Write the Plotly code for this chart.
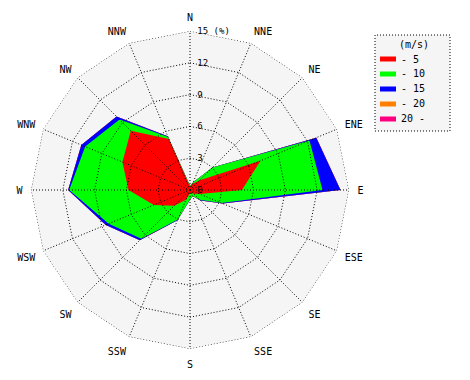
import numpy as np
import plotly.graph_objects as go

directions = ["N", "NNE", "NE", "ENE", "E", "ESE", "SE", "SSE",
              "S", "SSW", "SW", "WSW", "W", "WNW", "NW", "NNW"]

# frequency (%) per speed class and direction
speed_0_5 = [0.3, 0.6, 1.3, 7.2, 4.9, 1.0, 0.5, 0.3, 0.3, 1.0, 2.1, 3.7, 5.8, 6.9, 7.9, 5.2]
speed_5_10 = [0.1, 0.2, 1.7, 5.0, 7.6, 2.2, 0.8, 0.3, 0.6, 2.0, 4.4, 4.6, 5.6, 3.8, 1.5, 0.2]
speed_10_15 = [0.0, 0.0, 0.0, 0.7, 1.7, 0.15, 0.1, 0.0, 0.0, 0.1, 0.2, 0.3, 0.1, 0.4, 0.4, 0.1]
speed_15_20 = [0.0] * 16
speed_20_up = [0.0] * 16

class_names = ["- 5", "- 10", "- 15", "- 20", "20 -"]
class_colors = ["#ff0000", "#00ff00", "#0000ff", "#ff8000", "#ff0080"]
legend_title = "(m/s)"

radial_max = 15
radial_ticks = [0, 3, 6, 9, 12, 15]
radial_ticktext = ["0", "3", "6", "9", "12", "15 (%)"]

W, H = 470, 380
bins = np.array([speed_0_5, speed_5_10, speed_10_15, speed_15_20, speed_20_up])
cum = np.cumsum(bins, axis=0)

fig = go.Figure()
# plot-area background polygon
fig.add_trace(go.Scatterpolar(
    r=[radial_max] * len(directions), theta=directions,
    mode="none", fill="toself", fillcolor="#f5f5f5",
    showlegend=False, hoverinfo="skip"))
# stacked speed classes (largest cumulative first so smaller ones sit on top)
for i in reversed(range(len(class_names))):
    fig.add_trace(go.Scatterpolar(
        r=list(cum[i]),
        theta=directions,
        mode="none",
        fill="toself",
        fillcolor=class_colors[i],
        name=class_names[i],
        showlegend=False,
        hoverinfo="skip",
    ))

# dotted grid drawn above the filled areas
grid_line = dict(color="black", width=1, dash="1px,2px")
closed_dirs = directions + [directions[0]]
for t in radial_ticks[1:]:
    fig.add_trace(go.Scatterpolar(
        r=[t] * len(closed_dirs), theta=closed_dirs, mode="lines",
        line=grid_line, showlegend=False, hoverinfo="skip"))
spoke_r, spoke_t = [], []
for d in directions:
    spoke_r += [0, radial_max, None]
    spoke_t += [d, d, d]
fig.add_trace(go.Scatterpolar(
    r=spoke_r, theta=spoke_t, mode="lines", connectgaps=False,
    line=grid_line, showlegend=False, hoverinfo="skip"))

mono = "DejaVu Sans Mono"

def px_x(x):
    return x / W

def px_y(y):
    return 1 - y / H

# boxed key
shapes = [dict(type="rect", xref="paper", yref="paper",
               x0=px_x(375), x1=px_x(450), y0=px_y(131), y1=px_y(35),
               fillcolor="#f5f5f5", line=dict(color="black", width=1, dash="1px,2px"))]
annotations = [dict(text=legend_title, x=px_x(414), y=px_y(44), xref="paper", yref="paper",
                    showarrow=False, font=dict(family=mono, size=10),
                    xanchor="center", yanchor="middle")]
for k, (nm, col) in enumerate(zip(class_names, class_colors)):
    yc = 59 + 15 * k
    shapes.append(dict(type="rect", xref="paper", yref="paper",
                       x0=px_x(380), x1=px_x(396), y0=px_y(yc + 2.5), y1=px_y(yc - 2.5),
                       fillcolor=col, line=dict(width=0)))
    annotations.append(dict(text=nm, x=px_x(399), y=px_y(yc), xref="paper", yref="paper",
                            showarrow=False, font=dict(family=mono, size=10),
                            xanchor="left", yanchor="middle"))

fig.update_layout(
    width=W, height=H,
    margin=dict(l=0, r=0, t=0, b=0),
    paper_bgcolor="white",
    font=dict(family=mono, size=10, color="black"),
    showlegend=False,
    shapes=shapes,
    annotations=annotations,
    polar=dict(
        domain=dict(x=[31/W, 349/W], y=[1-349/H, 1-31/H]),
        bgcolor="white",
        gridshape="linear",
        radialaxis=dict(
            range=[0, radial_max],
            tickvals=radial_ticks,
            ticktext=radial_ticktext,
            angle=90,
            tickangle=90,
            showline=False,
            showgrid=False,
            ticks="outside",
            ticklen=5,
            tickcolor="rgba(0,0,0,0)",
            layer="above traces",
            tickfont=dict(family=mono, size=9),
        ),
        angularaxis=dict(
            direction="clockwise",
            rotation=90,
            showline=False,
            showgrid=False,
            ticks="outside",
            ticklen=6,
            tickcolor="rgba(0,0,0,0)",
            layer="above traces",
            tickfont=dict(family=mono, size=10),
        ),
    ),
)

fig.write_html("out.html", config={"displayModeBar": False},
               post_script="document.body.style.margin='0';")
